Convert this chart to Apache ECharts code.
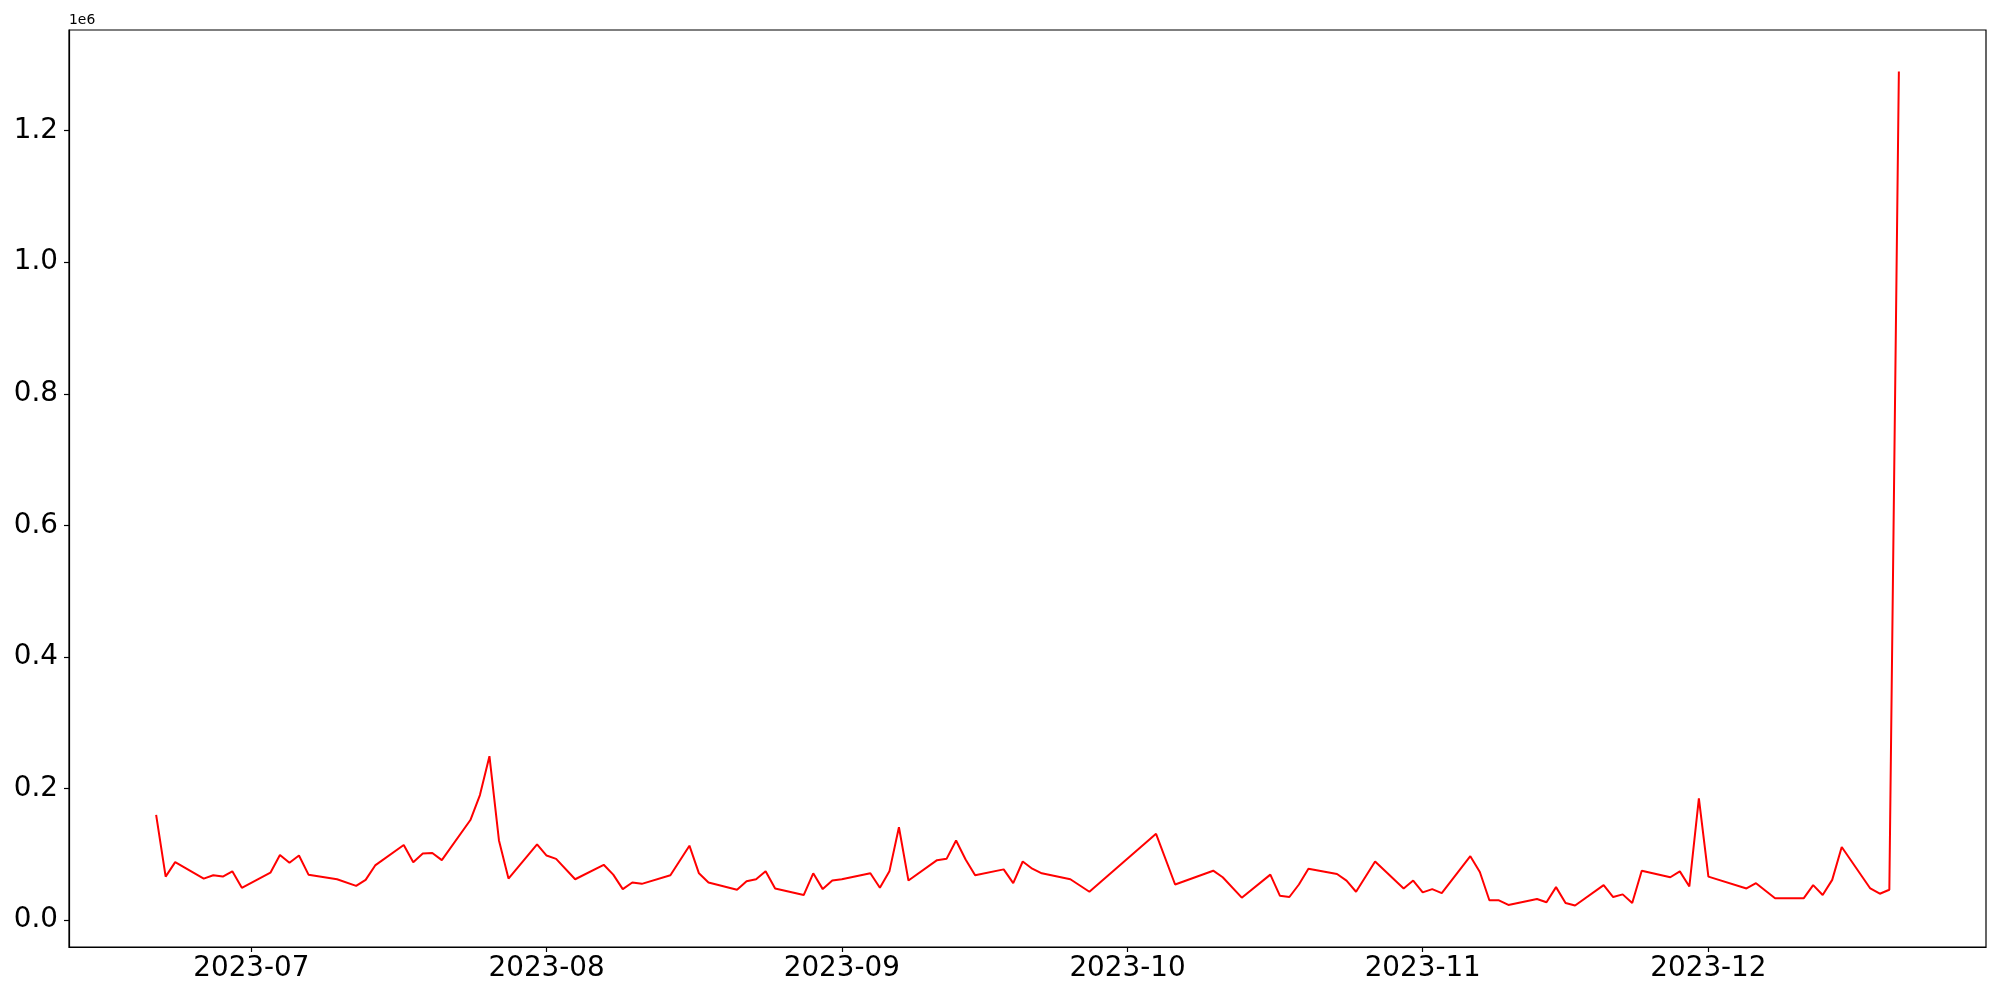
<!DOCTYPE html>
<html>
<head>
<meta charset="utf-8">
<script src="https://cdn.jsdelivr.net/npm/echarts@6/dist/echarts.min.js"></script>
<style>
  html, body { margin: 0; padding: 0; background: #fff; }
  #chart { width: 2000px; height: 1000px; }
</style>
</head>
<body>
<div id="chart"></div>
<script>
// daily values (business days)
const dates = [
  '2023-06-21', '2023-06-22', '2023-06-23', '2023-06-26', '2023-06-27', '2023-06-28', '2023-06-29', '2023-06-30',
  '2023-07-03', '2023-07-04', '2023-07-05', '2023-07-06', '2023-07-07', '2023-07-10', '2023-07-12', '2023-07-13',
  '2023-07-14', '2023-07-17', '2023-07-18', '2023-07-19', '2023-07-20', '2023-07-21', '2023-07-24', '2023-07-25',
  '2023-07-26', '2023-07-27', '2023-07-28', '2023-07-31',
  '2023-08-01', '2023-08-02', '2023-08-04', '2023-08-07', '2023-08-08', '2023-08-09', '2023-08-10', '2023-08-11',
  '2023-08-14', '2023-08-16', '2023-08-17', '2023-08-18', '2023-08-21', '2023-08-22', '2023-08-23', '2023-08-24',
  '2023-08-25', '2023-08-28', '2023-08-29', '2023-08-30', '2023-08-31',
  '2023-09-01', '2023-09-04', '2023-09-05', '2023-09-06', '2023-09-07', '2023-09-08', '2023-09-11', '2023-09-12',
  '2023-09-13', '2023-09-14', '2023-09-15', '2023-09-18', '2023-09-19', '2023-09-20', '2023-09-21', '2023-09-22',
  '2023-09-25', '2023-09-27',
  '2023-10-04', '2023-10-06', '2023-10-10', '2023-10-11', '2023-10-13', '2023-10-16', '2023-10-17', '2023-10-18',
  '2023-10-19', '2023-10-20', '2023-10-23', '2023-10-24', '2023-10-25', '2023-10-27', '2023-10-30', '2023-10-31',
  '2023-11-01', '2023-11-02', '2023-11-03', '2023-11-06', '2023-11-07', '2023-11-08', '2023-11-09', '2023-11-10',
  '2023-11-13', '2023-11-14', '2023-11-15', '2023-11-16', '2023-11-17', '2023-11-20', '2023-11-21', '2023-11-22',
  '2023-11-23', '2023-11-24', '2023-11-27', '2023-11-28', '2023-11-29', '2023-11-30',
  '2023-12-01', '2023-12-05', '2023-12-06', '2023-12-08', '2023-12-11', '2023-12-12', '2023-12-13', '2023-12-14',
  '2023-12-15', '2023-12-18', '2023-12-19', '2023-12-20', '2023-12-21',
];

const values = [
  160000, 66000, 88000, 63000, 68000, 66000, 74000, 49000,
  72000, 99000, 87000, 98000, 69000, 62000, 52000, 61000,
  83000, 114000, 88000, 101000, 102000, 91000, 152000, 190000,
  249000, 121000, 63000, 115000,
  98000, 93000, 62000, 84000, 69000, 47000, 57000, 55000,
  68000, 113000, 71000, 57000, 46000, 59000, 62000, 74000,
  48000, 38000, 71000, 47000, 60000,
  62000, 71000, 49000, 74000, 141000, 60000, 91000, 93000,
  121000, 92000, 68000, 77000, 56000, 89000, 78000, 71000,
  62000, 43000,
  131000, 54000, 75000, 65000, 34000, 69000, 37000, 35000,
  54000, 78000, 70000, 60000, 43000, 89000, 48000, 60000,
  42000, 47000, 41000, 97000, 73000, 30000, 30000, 23000,
  32000, 27000, 50000, 26000, 22000, 53000, 35000, 39000,
  26000, 75000, 65000, 74000, 51000, 185000,
  66000, 48000, 56000, 33000, 33000, 53000, 38000, 61000,
  111000, 48000, 40000, 46000, 1290000,
];

const monthTicks = ['2023-07-01', '2023-08-01', '2023-09-01', '2023-10-01', '2023-11-01', '2023-12-01'];
const monthLabels = ['2023-07', '2023-08', '2023-09', '2023-10', '2023-11', '2023-12'];
const yTicks = [0, 200000, 400000, 600000, 800000, 1000000, 1200000];

const DAY = 24 * 3600 * 1000;
function toTs(s) {
  const [y, m, d] = s.split('-').map(Number);
  return Date.UTC(y, m - 1, d);
}

const tickTs = monthTicks.map(toTs);
const xMin = toTs(dates[0]) - 9.15 * DAY;
const xMax = toTs(dates[dates.length - 1]) + 9.15 * DAY;

const font = 'DejaVu Sans';
const chart = echarts.init(document.getElementById('chart'), null, { renderer: 'canvas' });

chart.setOption({
  animation: false,
  backgroundColor: '#ffffff',
  grid: {
    left: 69, right: 14, top: 30, bottom: 53,
    show: true, borderColor: '#000', borderWidth: 1.2, backgroundColor: 'transparent',
  },
  graphic: [{
    type: 'text',
    left: 69,
    top: 13,
    style: { text: '1e6', font: `13.9px "${font}"`, fill: '#000' },
  }],
  xAxis: {
    type: 'value',
    min: xMin,
    max: xMax,
    axisLine: { show: true, onZero: false, lineStyle: { color: '#000', width: 1.2 } },
    axisTick: {
      show: true, inside: false, length: 5,
      customValues: tickTs,
      lineStyle: { color: '#000', width: 1.2 },
    },
    axisLabel: {
      show: true,
      customValues: tickTs,
      margin: 8,
      fontSize: 27.8,
      fontFamily: font,
      color: '#000',
      formatter: (v) => {
        const i = tickTs.indexOf(v);
        return i >= 0 ? monthLabels[i] : '';
      },
    },
    splitLine: { show: false },
  },
  yAxis: {
    type: 'value',
    min: -41000,
    max: 1353000,
    axisLine: { show: true, onZero: false, lineStyle: { color: '#000', width: 1.2 } },
    axisTick: {
      show: true, inside: false, length: 5,
      customValues: yTicks,
      lineStyle: { color: '#000', width: 1.2 },
    },
    axisLabel: {
      show: true,
      customValues: yTicks,
      margin: 11,
      fontSize: 27.8,
      fontFamily: font,
      color: '#000',
      formatter: (v) => (v / 1e6).toFixed(1),
    },
    splitLine: { show: false },
  },
  series: [{
    type: 'line',
    data: dates.map((d, i) => [toTs(d), values[i]]),
    showSymbol: false,
    symbol: 'none',
    lineStyle: { color: '#ff0000', width: 2 },
  }],
});
</script>
</body>
</html>
